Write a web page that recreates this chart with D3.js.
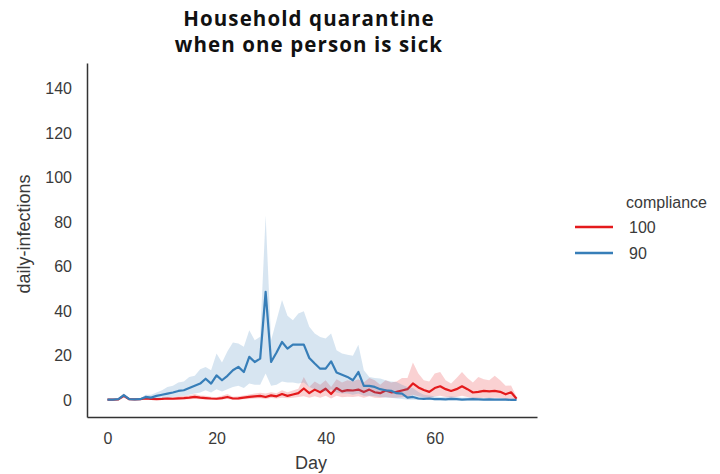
<!DOCTYPE html>
<html>
<head>
<meta charset="utf-8">
<script src="https://cdn.jsdelivr.net/npm/d3@7"></script>
<style>
  html, body { margin: 0; padding: 0; background: #fff; }
  svg { display: block; }
</style>
</head>
<body>
<svg id="chart" width="720" height="474"></svg>
<script>
// Day index 0..75
const days = d3.range(0, 76);

// Compliance 100 %: mean daily infections and 95% band
const redMean = [
  0.3,0.3,0.4,2.0,0.5,0.4,0.5,0.8,0.6,0.5,
  0.6,0.8,0.7,0.9,1.0,1.2,1.5,1.2,1.0,0.8,
  0.7,1.0,1.5,0.8,0.9,1.2,1.5,1.8,2.0,1.5,
  2.2,1.8,2.8,2.0,2.6,3.2,5.3,3.2,4.8,3.6,
  5.2,2.8,5.5,4.0,4.6,4.4,4.8,3.7,4.8,3.6,
  3.2,4.4,3.6,3.8,4.4,5.0,7.6,5.8,4.6,3.8,
  5.5,6.3,5.0,4.2,5.0,6.3,5.0,3.5,3.8,4.2,
  4.0,4.2,3.8,2.7,3.6,0.7
];
const redUpper = [
  0.5,0.5,0.8,3.0,0.8,0.6,0.8,1.5,1.2,1.0,
  1.2,1.5,1.4,1.8,2.0,2.3,2.8,2.2,2.0,1.6,
  1.4,2.0,2.8,1.6,1.8,2.2,2.6,3.0,3.4,3.0,
  3.6,3.2,4.5,3.6,4.4,5.2,10.5,6.0,8.5,7.0,
  9.0,6.0,9.5,8.0,9.0,8.5,9.5,8.0,10.0,9.0,
  7.0,9.0,8.0,8.5,10.0,10.0,17.0,12.0,9.0,8.5,
  12.0,12.7,9.0,7.5,10.0,12.7,10.0,8.0,10.5,9.5,
  9.0,11.0,9.0,6.5,6.7,1.5
];
const redLower = [
  0.1,0.1,0.2,1.2,0.2,0.1,0.2,0.3,0.2,0.1,
  0.2,0.3,0.2,0.3,0.4,0.5,0.6,0.5,0.4,0.3,
  0.2,0.4,0.6,0.3,0.3,0.5,0.6,0.8,0.9,0.6,
  1.0,0.8,1.2,0.9,1.1,1.5,1.8,1.2,1.8,1.2,
  2.0,0.8,2.0,1.4,1.6,1.5,1.8,1.2,1.8,1.2,
  1.0,1.5,1.2,1.2,1.4,1.6,2.5,1.8,1.4,1.0,
  1.8,2.0,1.5,1.2,1.5,2.0,1.5,1.0,1.0,1.2,
  1.0,1.2,1.0,0.6,0.8,0.1
];

// Compliance 90 %: mean daily infections and 95% band
const blueMean = [
  0.3,0.3,0.5,2.3,0.5,0.4,0.5,1.5,1.2,2.0,
  2.5,3.0,3.5,4.2,4.5,5.5,6.5,7.5,9.7,7.5,
  11.2,9.0,11.0,13.5,15.0,12.7,19.5,17.2,18.7,48.7,
  17.2,21.5,26.2,23.2,25.0,25.0,25.0,19.0,16.5,14.2,
  14.2,17.5,12.5,11.5,10.5,9.0,12.7,6.5,6.5,6.0,
  5.0,4.5,4.3,3.2,3.0,1.2,1.5,0.8,0.6,0.8,
  0.5,0.5,0.4,0.6,0.5,0.3,0.4,0.5,0.4,0.3,
  0.4,0.3,0.3,0.3,0.2,0.2
];
const blueUpper = [
  0.5,0.5,0.8,3.0,0.8,0.6,0.8,2.5,2.5,3.5,
  4.5,6.0,6.5,8.0,8.5,10.5,11.0,14.0,15.0,13.5,
  21.0,17.0,22.0,26.0,25.5,24.0,31.5,27.0,28.5,83.0,
  27.0,36.0,45.0,38.0,36.0,39.0,40.0,33.0,30.0,28.4,
  27.8,30.0,22.5,21.0,20.5,20.0,25.0,13.5,10.5,10.0,
  9.8,9.0,8.5,8.2,7.0,6.0,5.5,3.7,2.5,2.2,
  1.8,1.5,1.5,1.8,1.5,1.2,1.3,1.5,1.3,1.0,
  1.2,1.0,1.0,1.0,0.8,0.6
];
const blueLower = [
  0.1,0.1,0.2,1.5,0.2,0.2,0.2,0.6,0.5,0.8,
  1.0,1.2,1.5,1.8,2.0,2.5,3.0,3.5,4.5,3.5,
  5.0,4.0,5.0,6.0,6.5,5.5,7.5,7.0,7.0,12.0,
  6.5,7.0,8.5,8.0,8.0,7.5,8.0,6.0,5.0,4.5,
  4.0,5.0,3.5,3.0,3.0,2.5,3.0,2.0,2.0,1.8,
  1.5,1.2,1.2,0.8,0.6,0.3,0.3,0.1,0.1,0.1,
  0,0,0,0,0,0,0,0,0,0,
  0,0,0,0,0,0
];

const xTicks = [0, 20, 40, 60];
const yTicks = [0, 20, 40, 60, 80, 100, 120, 140];
const seriesNames = ["100", "90"];
const seriesColors = ["#e41a1c", "#377eb8"];

const svg = d3.select("#chart");
const plot = { left: 87, right: 537, top: 63, bottom: 417 };

const x = d3.scaleLinear().domain([-3.75, 78.75]).range([plot.left, plot.right]);
const y = d3.scaleLinear().domain([-7.5, 151.5]).range([plot.bottom, plot.top]);

const series = [
  { name: seriesNames[0], color: seriesColors[0], mean: redMean, lo: redLower, hi: redUpper },
  { name: seriesNames[1], color: seriesColors[1], mean: blueMean, lo: blueLower, hi: blueUpper }
];

const area = d3.area()
  .x(d => x(d.day))
  .y0(d => y(d.lo))
  .y1(d => y(d.hi));
const line = d3.line()
  .x(d => x(d.day))
  .y(d => y(d.v));

const g = svg.append("g");
series.forEach(s => {
  const rows = days.map((day, i) => ({ day, v: s.mean[i], lo: s.lo[i], hi: s.hi[i] }));
  g.append("path")
    .datum(rows)
    .attr("d", area)
    .attr("fill", s.color)
    .attr("fill-opacity", 0.2)
    .attr("stroke", "none");
  g.append("path")
    .datum(rows)
    .attr("d", line)
    .attr("fill", "none")
    .attr("stroke", s.color)
    .attr("stroke-width", 2.2)
    .attr("stroke-linejoin", "round");
});

// Axes: left and bottom spines only, no tick marks
const tickFont = "Liberation Sans, Arial, sans-serif";
const xAxis = svg.append("g")
  .attr("transform", `translate(0,${plot.bottom})`)
  .call(d3.axisBottom(x).tickValues(xTicks).tickSize(0).tickPadding(16));
const yAxis = svg.append("g")
  .attr("transform", `translate(${plot.left},0)`)
  .call(d3.axisLeft(y).tickValues(yTicks).tickSize(0).tickPadding(15));

[xAxis, yAxis].forEach(a => {
  a.select(".domain").attr("stroke", "#333").attr("stroke-width", 1.5);
  a.selectAll("text")
    .attr("fill", "#3a3a3a")
    .style("font-family", tickFont)
    .style("font-size", "16px");
});

svg.append("text")
  .attr("x", 311)
  .attr("y", 469)
  .attr("text-anchor", "middle")
  .attr("fill", "#3a3a3a")
  .style("font-family", tickFont)
  .style("font-size", "18px")
  .text("Day");

svg.append("text")
  .attr("transform", "translate(30,234) rotate(-90)")
  .attr("text-anchor", "middle")
  .attr("fill", "#3a3a3a")
  .style("font-family", tickFont)
  .style("font-size", "18px")
  .text("daily-infections");

// Title
const title = svg.append("text")
  .attr("text-anchor", "middle")
  .attr("fill", "#111")
  .style("font-family", "'Open Sans', Lato, sans-serif")
  .style("font-weight", "700")
  .style("font-size", "20.5px")
  .style("letter-spacing", "1.1px");
title.append("tspan").attr("x", 309).attr("y", 26).text("Household quarantine");
title.append("tspan").attr("x", 309).attr("y", 52).text("when one person is sick");

// Legend
const legend = svg.append("g");
legend.append("text")
  .attr("x", 626).attr("y", 208)
  .attr("fill", "#3a3a3a")
  .style("font-family", tickFont)
  .style("font-size", "16px")
  .text("compliance");
series.forEach((s, i) => {
  const ly = 227 + i * 26;
  legend.append("line")
    .attr("x1", 575).attr("x2", 613)
    .attr("y1", ly).attr("y2", ly)
    .attr("stroke", s.color)
    .attr("stroke-width", 2.5);
  legend.append("text")
    .attr("x", 629).attr("y", ly + 6)
    .attr("fill", "#3a3a3a")
    .style("font-family", tickFont)
    .style("font-size", "16px")
    .text(s.name);
});
</script>
</body>
</html>
